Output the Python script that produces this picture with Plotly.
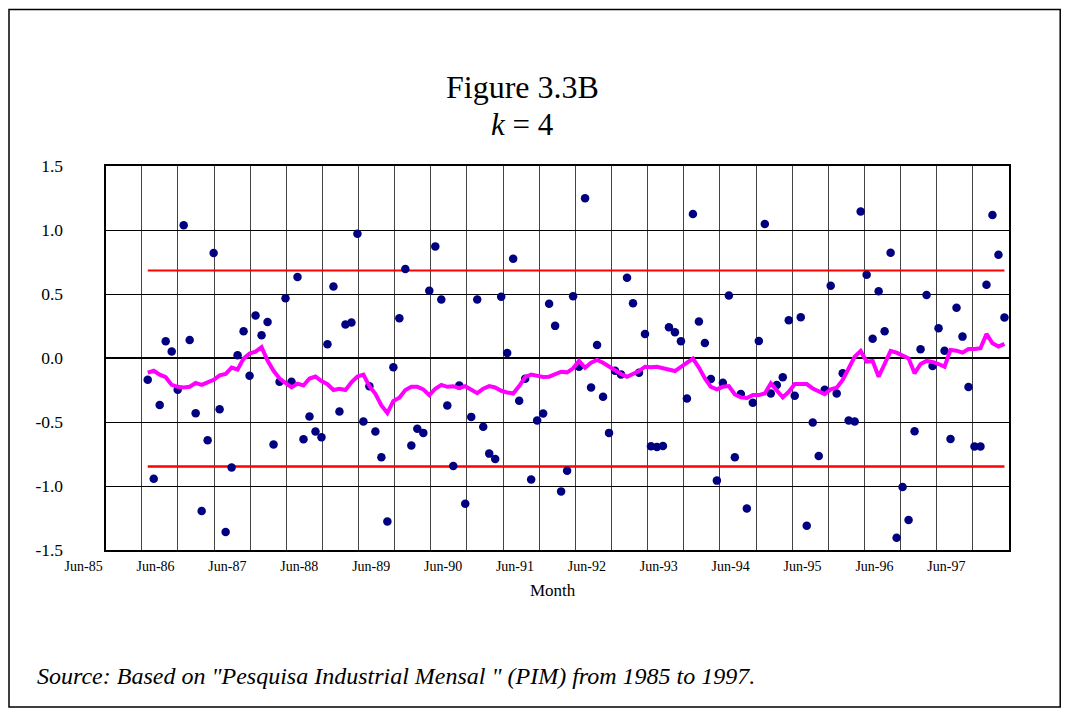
import plotly.graph_objects as go

# ---------------- data ----------------
months = list(range(144))  # monthly observations (index)

residuals = [
    -0.170, -0.943, -0.368, 0.130, 0.050, -0.248, 1.037, 0.141, -0.431, -1.196,
    -0.642, 0.820, -0.400, -1.360, -0.856, 0.021, 0.209, -0.138, 0.332, 0.178,
    0.282, -0.676, -0.185, 0.467, -0.185, 0.632, -0.634, -0.457, -0.574, -0.619,
    0.107, 0.559, -0.418, 0.261, 0.277, 0.971, -0.496, -0.220, -0.574, -0.775,
    -1.277, -0.073, 0.311, 0.695, -0.684, -0.553, -0.585, 0.525, 0.872, 0.457,
    -0.371, -0.843, -0.214, -1.138, -0.460, 0.457, -0.538, -0.747, -0.789, 0.478,
    0.039, 0.775, -0.334, -0.162, -0.950, -0.488, -0.433, 0.423, 0.251, -1.042,
    -0.880, 0.483, -0.068, 1.248, -0.230, 0.102, -0.303, -0.585, -0.100, -0.128,
    0.627, 0.428, -0.115, 0.188, -0.689, -0.695, -0.687, 0.240, 0.201, 0.131,
    -0.316, 1.125, 0.285, 0.117, -0.164, -0.958, -0.193, 0.488, -0.775, -0.282,
    -1.175, -0.350, 0.133, 1.047, -0.277, -0.211, -0.151, 0.295, -0.295, 0.319,
    -1.311, -0.504, -0.765, -0.248, 0.564, -0.277, -0.120, -0.488, -0.496, 1.144,
    0.650, 0.151, 0.522, 0.209, 0.822, -1.405, -1.008, -1.266, -0.572, 0.068,
    0.493, -0.063, 0.232, 0.057, -0.632, 0.392, 0.167, -0.227, -0.692, -0.692,
    0.572, 1.117, 0.807, 0.316,
]

trend = [
    -0.115, -0.100, -0.130, -0.150, -0.210, -0.225, -0.230, -0.225, -0.195, -0.210,
    -0.190, -0.170, -0.135, -0.125, -0.075, -0.090, -0.005, 0.035, 0.050, 0.085,
    -0.020, -0.100, -0.160, -0.200, -0.230, -0.200, -0.215, -0.160, -0.145, -0.180,
    -0.205, -0.250, -0.240, -0.250, -0.190, -0.145, -0.130, -0.220, -0.280, -0.370,
    -0.430, -0.335, -0.310, -0.250, -0.225, -0.225, -0.245, -0.290, -0.240, -0.210,
    -0.225, -0.220, -0.235, -0.220, -0.250, -0.275, -0.240, -0.220, -0.230, -0.256,
    -0.269, -0.277, -0.219, -0.150, -0.130, -0.140, -0.149, -0.146, -0.128, -0.107,
    -0.112, -0.081, -0.023, -0.076, -0.037, -0.016, -0.037, -0.068, -0.099, -0.125,
    -0.146, -0.125, -0.102, -0.068, -0.073, -0.068, -0.081, -0.094, -0.102, -0.070,
    -0.040, -0.005, -0.075, -0.160, -0.225, -0.245, -0.225, -0.219, -0.285, -0.308,
    -0.313, -0.290, -0.290, -0.277, -0.198, -0.250, -0.308, -0.264, -0.204, -0.204,
    -0.204, -0.238, -0.264, -0.282, -0.245, -0.232, -0.172, -0.081, 0.010, 0.055,
    -0.029, -0.023, -0.146, -0.047, 0.055, 0.042, 0.023, -0.003, -0.120, -0.047,
    -0.023, -0.031, -0.047, -0.068, 0.063, 0.057, 0.042, 0.070, 0.070, 0.076,
    0.188, 0.115, 0.089, 0.110,
]

upper_limit = 0.684
lower_limit = -0.848

x_tick_labels = ["Jun-85", "Jun-86", "Jun-87", "Jun-88", "Jun-89", "Jun-90", "Jun-91",
                 "Jun-92", "Jun-93", "Jun-94", "Jun-95", "Jun-96", "Jun-97"]
y_tick_vals = [-1.5, -1.0, -0.5, 0.0, 0.5, 1.0, 1.5]
y_tick_text = ["-1.5", "-1.0", "-0.5", "0.0", "0.5", "1.0", "1.5"]

# ---------------- geometry ----------------
W, H = 1069, 716
PL, PR, PT, PB = 105.6, 1008.8, 165.7, 550.0     # plot rectangle in px
ML, MR = 20, W - PR
MT, MB = PT, H - PB
area_w = W - ML - MR
area_h = H - MT - MB

x_lo, x_hi = -7.03, 143.76
ppu = (PR - PL) / (x_hi - x_lo)
x2_lo = x_lo - (PL - ML) / ppu
grid_step = (x_hi - x_lo) / 25
grid_vals = [x_lo + grid_step * k for k in range(26)]
label_offset = 1.3
label_pos = [label_offset + 12 * (k - 1) for k in range(len(x_tick_labels))]


def fx(px):
    return (px - ML) / area_w


def fy(py):
    return (PB - py) / area_h


serif = "Liberation Serif, Times New Roman, serif"

fig = go.Figure()

# control limits
fig.add_trace(go.Scatter(x=[months[0], months[-1]], y=[upper_limit, upper_limit],
                         mode="lines", line=dict(color="#ff0000", width=2),
                         hoverinfo="skip", showlegend=False))
fig.add_trace(go.Scatter(x=[months[0], months[-1]], y=[lower_limit, lower_limit],
                         mode="lines", line=dict(color="#ff0000", width=2.5),
                         hoverinfo="skip", showlegend=False))
# residual dots
fig.add_trace(go.Scatter(x=months, y=residuals, mode="markers",
                         marker=dict(color="#000080", size=8.5, line=dict(width=0)),
                         showlegend=False))
# trend line
fig.add_trace(go.Scatter(x=months, y=trend, mode="lines",
                         line=dict(color="#ff00ff", width=4),
                         showlegend=False))
# invisible trace to carry the label axis
fig.add_trace(go.Scatter(x=label_pos, y=[0] * len(label_pos), xaxis="x2", yaxis="y2",
                         mode="markers", marker=dict(opacity=0), hoverinfo="skip",
                         showlegend=False))

fig.update_layout(
    width=W, height=H,
    margin=dict(l=ML, r=MR, t=MT, b=MB, pad=0),
    paper_bgcolor="white", plot_bgcolor="rgba(0,0,0,0)",
    font=dict(family=serif, color="black"),
    xaxis=dict(domain=[fx(PL), 1], range=[x_lo, x_hi], tickmode="array",
               tickvals=grid_vals, showticklabels=False, ticks="",
               showgrid=True, gridcolor="#444444", gridwidth=1.3,
               zeroline=False, showline=True, linecolor="black", linewidth=2,
               mirror=True),
    yaxis=dict(domain=[0, 1], range=[-1.5, 1.5], tickmode="array",
               tickvals=y_tick_vals, ticktext=y_tick_text, ticks="",
               ticklabelstandoff=37, tickfont=dict(size=17.5, family=serif),
               showgrid=True, gridcolor="black", gridwidth=1,
               zeroline=True, zerolinecolor="black", zerolinewidth=2,
               showline=True, linecolor="black", linewidth=2, mirror=True),
    xaxis2=dict(domain=[0, 1], range=[x2_lo, x_hi], anchor="y2", tickmode="array",
                tickvals=label_pos, ticktext=x_tick_labels, ticks="",
                ticklabelstandoff=6, tickfont=dict(size=14, family=serif),
                showgrid=False, zeroline=False, showline=False),
    yaxis2=dict(domain=[0, 1], range=[-1.5, 1.5], anchor="x2", visible=False,
                showgrid=False, zeroline=False),
    annotations=[
        dict(text="Figure 3.3B", x=fx(522), y=fy(87), xref="paper", yref="paper",
             xanchor="center", yanchor="middle", showarrow=False,
             font=dict(size=32, family=serif)),
        dict(text="<i>k</i> = 4", x=fx(522), y=fy(124), xref="paper", yref="paper",
             xanchor="center", yanchor="middle", showarrow=False,
             font=dict(size=31, family=serif)),
        dict(text="Month", x=fx(553), y=fy(591), xref="paper", yref="paper",
             xanchor="center", yanchor="middle", showarrow=False,
             font=dict(size=17, family=serif)),
        dict(text="<i>Source: Based on \"Pesquisa Industrial Mensal \" (PIM) from 1985 to 1997.</i>",
             x=fx(35), y=fy(676), xref="paper", yref="paper",
             xanchor="left", yanchor="middle", showarrow=False,
             font=dict(size=24, family=serif)),
    ],
    shapes=[
        dict(type="rect", xref="paper", yref="paper",
             x0=fx(9), x1=fx(1060), y0=fy(707), y1=fy(9),
             line=dict(color="black", width=1.5), fillcolor="rgba(0,0,0,0)"),
    ],
)

fig.write_html("out.html", config={"displayModeBar": False},
               post_script="document.body.style.margin='0';document.body.style.overflow='hidden';")
